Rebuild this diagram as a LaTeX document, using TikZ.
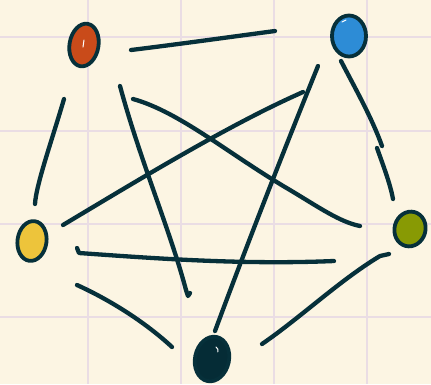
\documentclass[tikz,border=0pt]{standalone}
\usetikzlibrary{shapes.geometric}
\definecolor{bg}{HTML}{FCF5E3}
\definecolor{gridc}{HTML}{EADDE4}
\definecolor{ink}{HTML}{06303A}
\definecolor{cOrange}{HTML}{C94B1A}
\definecolor{cBlue}{HTML}{2D8CD6}
\definecolor{cGreen}{HTML}{889A04}
\definecolor{cNavy}{HTML}{052C36}
\definecolor{cYellow}{HTML}{EDC43B}
\begin{document}
\begin{tikzpicture}[x=1pt,y=-1pt,
  stroke/.style={ink, line width=4.3pt, line cap=round, line join=round},
  gridline/.style={gridc, line width=1.4pt},
  dotnode/.style={ellipse, draw=ink, line width=3.8pt, inner sep=0pt},
  shine/.style={white, line width=1pt, line cap=round}]
\fill[bg] (0,0) rectangle (431,384);
\useasboundingbox (0,0) rectangle (431,384);
% grid
\foreach \gx in {88,181,274,367} \draw[gridline] (\gx,0) -- (\gx,384);
\foreach \gy in {37,131,224,317} \draw[gridline] (0,\gy) -- (431,\gy);
% nodes
\node[dotnode, fill=cOrange, minimum width=29pt, minimum height=43pt, rotate=-10] (o) at (84,45) {};
\node[dotnode, fill=cBlue, minimum width=34pt, minimum height=41pt] (b) at (349,36) {};
\node[dotnode, fill=cGreen, minimum width=31pt, minimum height=35pt, rotate=-15] (g) at (410,229) {};
\node[dotnode, fill=cNavy, minimum width=34pt, minimum height=45pt, rotate=-12] (n) at (212,359) {};
\node[dotnode, fill=cYellow, minimum width=29pt, minimum height=40pt, rotate=-8] (y) at (32,241) {};
\draw[shine] (84,40) -- (83,47);
\draw[shine] (342,22) -- (346,20);
\draw[shine] (216,347) arc (-60:20:4);
% connector ends
\coordinate (ob1) at (131,50); \coordinate (ob2) at (275,31);
\coordinate (oy1) at (64,99);  \coordinate (oy2) at (35,204);
\coordinate (bg1) at (341,61); \coordinate (bg2) at (382,146);
\coordinate (bg3) at (377,148); \coordinate (bg4) at (393,199);
\coordinate (yn1) at (77,285); \coordinate (yn2) at (172,347);
\coordinate (gn1) at (389,254); \coordinate (gn2) at (262,344);
\coordinate (on1) at (120,86); \coordinate (on2) at (188,296);
\coordinate (og1) at (133,99); \coordinate (og2) at (360,226);
\coordinate (by1) at (303,92); \coordinate (by2) at (63,225);
\coordinate (bn1) at (318,66); \coordinate (bn2) at (215,331);
\coordinate (yg1) at (77,248); \coordinate (yg2) at (334,261);
% connectors
\draw[stroke] (ob1) .. controls (180,44) and (230,37) .. (ob2);
\draw[stroke] (oy1) .. controls (52,140) and (36,185) .. (oy2);
\draw[stroke] (bg1) .. controls (355,88) and (372,118) .. (bg2);
\draw[stroke] (bg3) .. controls (383,165) and (390,183) .. (bg4);
\draw[stroke] (yn1) .. controls (110,300) and (145,322) .. (yn2);
\draw[stroke] (gn1) -- (380,256) .. controls (340,280) and (300,318) .. (gn2);
\draw[stroke] (on1) .. controls (140,160) and (170,230) .. (186,290) -- (on2) -- (190,293);
\draw[stroke] (og1) .. controls (180,112) and (230,155) .. (290,190) .. controls (320,208) and (340,222) .. (og2);
\draw[stroke] (by1) -- (292,97) .. controls (220,130) and (130,185) .. (by2);
\draw[stroke] (bn1) .. controls (280,160) and (245,250) .. (bn2);
\draw[stroke] (yg1) -- (79,253) .. controls (150,258) and (240,265) .. (yg2);
\end{tikzpicture}
\end{document}
